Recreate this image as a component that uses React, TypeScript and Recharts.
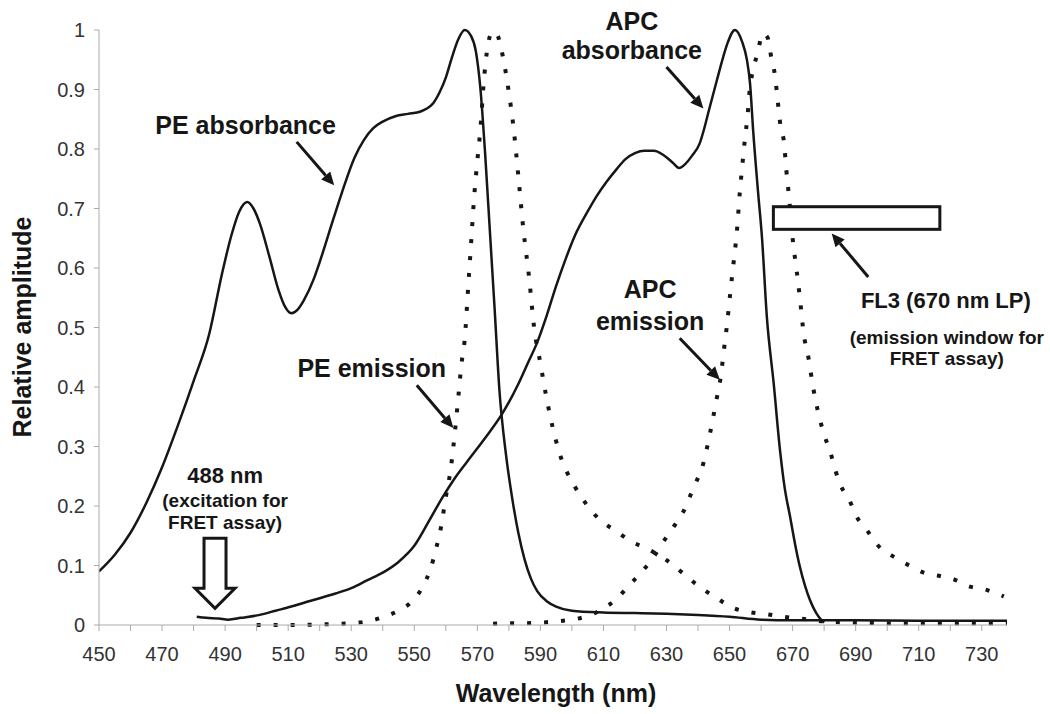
import React from "react"
import {
  LineChart,
  Line,
  XAxis,
  YAxis,
  ReferenceDot,
  ReferenceLine,
} from "recharts"

// spectra (wavelength in nm, relative amplitude)
const peAbsNm = [450, 455, 460, 465, 470, 475, 480, 485, 489, 492, 494.5, 497, 499, 501, 504, 507, 509, 511, 513, 515, 518, 520, 523, 527, 531, 534, 537, 540, 544, 548, 552, 554, 556, 558, 560, 562, 564, 566, 568, 569.5, 571, 572.5, 574, 575.5, 577, 579, 581, 583, 585, 587, 589, 592, 595, 600, 610, 620, 630, 640, 650, 660, 670, 690, 710, 738]
const peAbsVal = [0.09, 0.118, 0.155, 0.205, 0.265, 0.335, 0.41, 0.49, 0.59, 0.655, 0.695, 0.711, 0.7, 0.675, 0.62, 0.562, 0.535, 0.524, 0.53, 0.546, 0.58, 0.61, 0.66, 0.726, 0.785, 0.815, 0.835, 0.846, 0.855, 0.859, 0.863, 0.868, 0.877, 0.895, 0.92, 0.955, 0.985, 1.0, 0.99, 0.965, 0.9, 0.79, 0.66, 0.53, 0.395, 0.29, 0.215, 0.155, 0.11, 0.078, 0.057, 0.04, 0.031, 0.024, 0.021, 0.02, 0.019, 0.017, 0.014, 0.009, 0.008, 0.008, 0.007, 0.007]

const peEmNm = [500, 510, 520, 530, 536, 540, 543, 546, 549, 551, 553, 555, 557, 558.5, 560, 561.5, 563, 564, 565, 566, 567, 568, 569, 570, 571, 572, 573, 574, 575, 576.5, 578, 580, 581.5, 583, 584.5, 586.5, 588, 590, 592, 594, 596, 601, 605, 609, 614, 618, 625, 630, 635, 640, 646, 651, 656, 662, 667, 672, 680, 690, 700, 738]
const peEmVal = [0.0, 0.0, 0.001, 0.003, 0.007, 0.013, 0.019, 0.027, 0.038, 0.05, 0.068, 0.092, 0.13, 0.165, 0.215, 0.26, 0.33, 0.385, 0.44, 0.48, 0.56, 0.64, 0.72, 0.78, 0.835, 0.91, 0.962, 0.99, 0.998, 0.99, 0.958, 0.895, 0.835, 0.755, 0.67, 0.58, 0.5, 0.44, 0.38, 0.33, 0.29, 0.232, 0.2, 0.176, 0.158, 0.143, 0.125, 0.109, 0.088, 0.066, 0.045, 0.029, 0.022, 0.018, 0.014, 0.011, 0.006, 0.004, 0.003, 0.003]

const apcAbsNm = [481, 484, 488, 491, 495, 501, 506, 511, 516, 520, 525, 530, 535, 540, 545, 550, 555, 559, 563, 568, 572, 578, 583, 586, 589, 592, 595, 598, 601, 605, 608, 611, 614, 617, 620, 623, 626, 629, 632, 634, 636, 638, 640.5, 642, 643.5, 646, 648, 649.5, 651.7, 654, 655.5, 656.5, 657.5, 659, 660.3, 661.8, 664, 666, 667.5, 669.2, 671, 672.3, 674, 675.5, 677.5, 679.2, 680]
const apcAbsVal = [0.014, 0.012, 0.011, 0.009, 0.012, 0.017, 0.024, 0.031, 0.039, 0.045, 0.053, 0.062, 0.075, 0.088, 0.106, 0.133, 0.178, 0.215, 0.248, 0.283, 0.311, 0.356, 0.405, 0.44, 0.475, 0.52, 0.57, 0.615, 0.655, 0.695, 0.722, 0.745, 0.765, 0.783, 0.793, 0.797, 0.797, 0.79, 0.777, 0.768, 0.775, 0.788, 0.809, 0.835, 0.866, 0.916, 0.955, 0.98, 1.0, 0.98, 0.95, 0.91, 0.83, 0.73, 0.65, 0.52, 0.406, 0.294, 0.23, 0.182, 0.13, 0.098, 0.065, 0.042, 0.02, 0.008, 0.004]

const apcEmNm = [575, 580, 585, 590, 595, 600, 605, 610, 614, 618, 622.6, 626, 629, 632, 635.3, 638.5, 641.7, 643.8, 645.9, 647.2, 648.2, 649.2, 650.2, 651.2, 652.3, 653.3, 654, 654.9, 655.6, 656.5, 657.5, 659, 660.5, 662, 663.3, 664.4, 665.3, 666.2, 667.3, 668, 668.8, 670.2, 671.3, 672.3, 673.5, 675, 676.5, 678, 680, 682, 683.5, 685.5, 688, 690.3, 693.5, 697, 702, 707, 712, 717, 721.5, 726, 731.5, 737]
const apcEmVal = [0.002, 0.003, 0.003, 0.004, 0.006, 0.009, 0.015, 0.028, 0.043, 0.066, 0.092, 0.115, 0.14, 0.163, 0.19, 0.23, 0.272, 0.322, 0.38, 0.417, 0.462, 0.505, 0.557, 0.605, 0.66, 0.73, 0.77, 0.818, 0.85, 0.905, 0.933, 0.964, 0.994, 0.988, 0.952, 0.924, 0.88, 0.837, 0.81, 0.765, 0.723, 0.64, 0.595, 0.55, 0.49, 0.45, 0.4, 0.36, 0.32, 0.29, 0.261, 0.232, 0.21, 0.182, 0.16, 0.134, 0.115, 0.1, 0.087, 0.082, 0.076, 0.065, 0.059, 0.048]

const xTicks = [450, 460, 470, 480, 490, 500, 510, 520, 530, 540, 550, 560, 570, 580, 590, 600, 610, 620, 630, 640, 650, 660, 670, 680, 690, 700, 710, 720, 730]
const yTicks = [0, 0.1, 0.2, 0.3, 0.4, 0.5, 0.6, 0.7, 0.8, 0.9, 1]

const toRows = (nm: number[], vals: number[]) => nm.map((x, i) => ({ nm: x, v: vals[i] }))

const FONT = "'Liberation Sans', Arial, sans-serif"
const INK = "#161616"

// annotation text, placed in data coordinates (x = nm, y = baseline amplitude)
const notes = [
  { x: 496.5, y: 0.825, text: "PE absorbance", size: 25 },
  { x: 619, y: 1.0, text: "APC", size: 25 },
  { x: 619, y: 0.951, text: "absorbance", size: 25 },
  { x: 536.5, y: 0.417, text: "PE emission", size: 25 },
  { x: 490, y: 0.238, text: "488 nm", size: 22 },
  { x: 490, y: 0.199, text: "(excitation for", size: 19 },
  { x: 490, y: 0.161, text: "FRET assay)", size: 19 },
  { x: 624.8, y: 0.549, text: "APC", size: 25 },
  { x: 624.8, y: 0.496, text: "emission", size: 25 },
  { x: 718.6, y: 0.532, text: "FL3 (670 nm LP)", size: 22 },
  { x: 718.9, y: 0.472, text: "(emission window for", size: 19 },
  { x: 718.9, y: 0.437, text: "FRET assay)", size: 19 },
]

const arrows = [
  { x1: 512.7, y1: 0.812, x2: 524.6, y2: 0.739 },
  { x1: 630.0, y1: 0.938, x2: 641.7, y2: 0.868 },
  { x1: 550.8, y1: 0.403, x2: 562.4, y2: 0.331 },
  { x1: 634.2, y1: 0.482, x2: 646.9, y2: 0.412 },
  { x1: 694.0, y1: 0.585, x2: 682.4, y2: 0.658 },
]

function arrowShape(p: any) {
  const { x1, y1, x2, y2 } = p
  const dx = x2 - x1
  const dy = y2 - y1
  const len = Math.hypot(dx, dy) || 1
  const ux = dx / len
  const uy = dy / len
  const hl = 13
  const hw = 6
  const bx = x2 - ux * hl
  const by = y2 - uy * hl
  return (
    <g>
      <line x1={x1} y1={y1} x2={bx} y2={by} stroke={INK} strokeWidth={3} />
      <polygon
        points={`${x2},${y2} ${bx - uy * hw},${by + ux * hw} ${bx + uy * hw},${by - ux * hw}`}
        fill={INK}
      />
    </g>
  )
}

// hollow block arrow marking 488 nm
function hollowArrow(p: any) {
  const { x1, y1, y2 } = p
  const sw = 11
  const hw = 20
  const hy = y2 - 20
  const pts = [
    [x1 - sw, y1],
    [x1 + sw, y1],
    [x1 + sw, hy],
    [x1 + hw, hy],
    [x1, y2],
    [x1 - hw, hy],
    [x1 - sw, hy],
  ]
    .map((q) => q.join(","))
    .join(" ")
  return <polygon points={pts} fill="#fff" stroke={INK} strokeWidth={3} strokeLinejoin="miter" />
}

// FL3 window box, drawn from the segment's two corners
function boxShape(p: any) {
  const { x1, y1, x2, y2 } = p
  return (
    <rect
      x={Math.min(x1, x2)}
      y={Math.min(y1, y2)}
      width={Math.abs(x2 - x1)}
      height={Math.abs(y2 - y1)}
      fill="#fff"
      stroke={INK}
      strokeWidth={3}
    />
  )
}

function XTick(props: any) {
  const { x, y, payload } = props
  if (payload.value % 20 !== 10) return <g />
  return (
    <text x={x} y={y} dy={28} textAnchor="middle" fontSize={20} fontFamily={FONT} fill="#333">
      {payload.value}
    </text>
  )
}

export default function App() {
  return (
    <div style={{ position: "absolute", left: 0, top: 0, width: 1050, height: 714, background: "#fff" }}>
      <LineChart width={1050} height={714} margin={{ top: 30, right: 43, bottom: 29, left: 39 }}>
        <XAxis
          dataKey="nm"
          type="number"
          domain={[450, 738]}
          ticks={xTicks}
          interval={0}
          height={60}
          tickSize={6}
          tickMargin={2}
          stroke="#aaa"
          tick={<XTick />}
          allowDataOverflow
        />
        <YAxis
          type="number"
          domain={[0, 1]}
          ticks={yTicks}
          interval={0}
          width={60}
          tickSize={5}
          tickMargin={9}
          stroke="#aaa"
          tickFormatter={(v: number) => String(v)}
          tick={{ fill: "#333", fontSize: 20, fontFamily: FONT }}
        />
        <Line data={toRows(peAbsNm, peAbsVal)} dataKey="v" type="monotone" stroke={INK} strokeWidth={2.5} dot={false} activeDot={false} isAnimationActive={false} />
        <Line data={toRows(apcAbsNm, apcAbsVal)} dataKey="v" type="monotone" stroke={INK} strokeWidth={2.5} dot={false} activeDot={false} isAnimationActive={false} />
        <Line data={toRows(peEmNm, peEmVal)} dataKey="v" type="monotone" stroke={INK} strokeWidth={4} strokeDasharray="4 13" dot={false} activeDot={false} isAnimationActive={false} />
        <Line data={toRows(apcEmNm, apcEmVal)} dataKey="v" type="monotone" stroke={INK} strokeWidth={4} strokeDasharray="4 13" dot={false} activeDot={false} isAnimationActive={false} />
        <ReferenceLine
          segment={[{ x: 663.9, y: 0.703 }, { x: 716.7, y: 0.665 }]}
          shape={boxShape}
          ifOverflow="visible"
          zIndex={1500}
        />
        {arrows.map((a, i) => (
          <ReferenceLine
            key={"a" + i}
            segment={[{ x: a.x1, y: a.y1 }, { x: a.x2, y: a.y2 }]}
            shape={arrowShape}
            ifOverflow="visible"
            zIndex={1500}
          />
        ))}
        <ReferenceLine segment={[{ x: 486.8, y: 0.146 }, { x: 486.8, y: 0.028 }]} shape={hollowArrow} ifOverflow="visible" zIndex={1500} />
        {notes.map((n, i) => (
          <ReferenceDot
            key={"n" + i}
            x={n.x}
            y={n.y}
            r={0}
            ifOverflow="visible"
            zIndex={1600}
            shape={(p: any) => (
              <text x={p.cx} y={p.cy} textAnchor="middle" fontSize={n.size} fontWeight="bold" fontFamily={FONT} fill={INK}>
                {n.text}
              </text>
            )}
          />
        ))}
      </LineChart>
      <div
        style={{
          position: "absolute",
          left: 22,
          top: 327,
          transform: "translate(-50%, -50%) rotate(-90deg)",
          fontFamily: FONT,
          fontWeight: "bold",
          fontSize: 25,
          whiteSpace: "nowrap",
          color: INK,
        }}
      >
        Relative amplitude
      </div>
      <div
        style={{
          position: "absolute",
          left: 556,
          top: 693,
          transform: "translate(-50%, -50%)",
          fontFamily: FONT,
          fontWeight: "bold",
          fontSize: 25,
          whiteSpace: "nowrap",
          color: INK,
        }}
      >
        Wavelength (nm)
      </div>
    </div>
  )
}
